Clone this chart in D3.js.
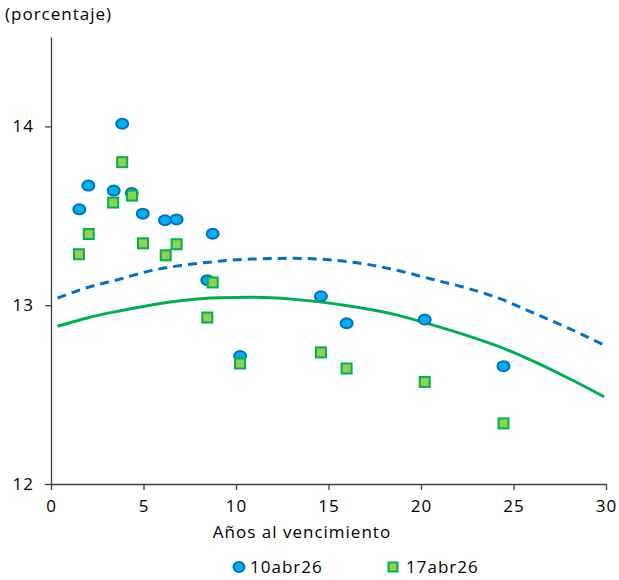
<!DOCTYPE html>
<html>
<head>
<meta charset="utf-8">
<script src="https://cdn.jsdelivr.net/npm/d3@7"></script>
<style>
  body { margin: 0; background: #fff; }
  text { font-family: "Open Sans", "Liberation Sans", sans-serif; fill: #000; letter-spacing: 1px; }
</style>
</head>
<body>
<svg id="chart" width="619" height="580"></svg>
<script>
// bonos: plazo (años) y rendimiento (%)
var plazos10 = [1.53, 2.02, 3.39, 3.85, 4.36, 4.96, 6.16, 6.79, 8.74, 8.45, 10.22, 14.59, 15.98, 20.2, 24.46];
var tasas10  = [13.536, 13.669, 13.641, 14.015, 13.627, 13.512, 13.475, 13.48, 13.40, 13.14, 12.716, 13.05, 12.899, 12.92, 12.659];

var plazos17 = [1.51, 2.04, 3.36, 3.85, 4.38, 4.97, 6.2, 6.79, 8.74, 8.45, 10.22, 14.59, 15.98, 20.2, 24.46];
var tasas17  = [13.285, 13.398, 13.574, 13.80, 13.613, 13.346, 13.279, 13.341, 13.127, 12.931, 12.674, 12.736, 12.646, 12.571, 12.339];

// curvas ajustadas
var curvaX   = [0.35, 2, 3.7, 5.35, 7, 9, 10.8, 13, 16.2, 18.5, 20.6, 22.5, 24.3, 26, 28, 29.9];
var curva10  = [13.04, 13.10, 13.145, 13.192, 13.222, 13.245, 13.258, 13.262, 13.242, 13.20, 13.145, 13.095, 13.035, 12.96, 12.87, 12.777];
var curva17  = [12.882, 12.93, 12.968, 13.0, 13.025, 13.042, 13.044, 13.034, 12.994, 12.95, 12.89, 12.83, 12.765, 12.69, 12.59, 12.488];

var xTicks = [0, 5, 10, 15, 20, 25, 30];
var yTicks = [12, 13, 14];

var svg = d3.select("#chart"),
    margin = {top: 37, right: 13, bottom: 96, left: 51},
    width = +svg.attr("width") - margin.left - margin.right,
    height = +svg.attr("height") - margin.top - margin.bottom,
    g = svg.append("g").attr("transform", "translate(" + margin.left + "," + margin.top + ")");

var x = d3.scaleLinear().domain([0, 30]).range([0, width]);
var y = d3.scaleLinear().domain([12, 14.5]).range([height, 0]);

var xAxis = g.append("g")
    .attr("transform", "translate(0," + height + ")")
    .call(d3.axisBottom(x).tickValues(xTicks).tickFormat(d3.format("d")).tickSize(6).tickSizeOuter(0).tickPadding(10));
var yAxis = g.append("g")
    .call(d3.axisLeft(y).tickValues(yTicks).tickFormat(d3.format("d")).tickSize(6).tickSizeOuter(0).tickPadding(11));

[xAxis, yAxis].forEach(function(a) {
  a.select(".domain").attr("stroke", "#404040").attr("stroke-width", 1.3);
  a.selectAll(".tick line").attr("stroke", "#404040").attr("stroke-width", 1.3);
  a.selectAll(".tick text").style("font-size", "17px").attr("fill", "#000");
});

var line = d3.line()
    .curve(d3.curveMonotoneX)
    .x(function(d) { return x(d[0]); })
    .y(function(d) { return y(d[1]); });

g.append("path")
    .datum(d3.zip(curvaX, curva10))
    .attr("d", line)
    .attr("fill", "none")
    .attr("stroke", "#0070C0")
    .attr("stroke-width", 3)
    .attr("stroke-dasharray", "9,6");

g.append("path")
    .datum(d3.zip(curvaX, curva17))
    .attr("d", line)
    .attr("fill", "none")
    .attr("stroke", "#00B050")
    .attr("stroke-width", 3);

g.selectAll(".pt10")
    .data(d3.zip(plazos10, tasas10))
  .enter().append("ellipse")
    .attr("class", "pt10")
    .attr("cx", function(d) { return x(d[0]); })
    .attr("cy", function(d) { return y(d[1]); })
    .attr("rx", 6)
    .attr("ry", 5)
    .attr("fill", "#00B0F0")
    .attr("stroke", "#0070C0")
    .attr("stroke-width", 2);

g.selectAll(".pt17")
    .data(d3.zip(plazos17, tasas17))
  .enter().append("rect")
    .attr("class", "pt17")
    .attr("x", function(d) { return x(d[0]) - 5; })
    .attr("y", function(d) { return y(d[1]) - 5; })
    .attr("width", 10)
    .attr("height", 10)
    .attr("fill", "#92D050")
    .attr("stroke", "#00B050")
    .attr("stroke-width", 2);

svg.append("text")
    .attr("x", 5)
    .attr("y", 20)
    .style("font-size", "17px")
    .text("(porcentaje)");

svg.append("text")
    .attr("x", 302)
    .attr("y", 538)
    .attr("text-anchor", "middle")
    .style("font-size", "17px")
    .text("Años al vencimiento");

// leyenda
var leg = svg.append("g").attr("transform", "translate(0,567)");
leg.append("ellipse").attr("cx", 239).attr("cy", 0).attr("rx", 5.5).attr("ry", 5)
    .attr("fill", "#00B0F0").attr("stroke", "#0070C0").attr("stroke-width", 2);
leg.append("text").attr("x", 250).attr("y", 6).style("font-size", "17px").text("10abr26");
leg.append("rect").attr("x", 388.5).attr("y", -4.5).attr("width", 9).attr("height", 9)
    .attr("fill", "#92D050").attr("stroke", "#00B050").attr("stroke-width", 2);
leg.append("text").attr("x", 406).attr("y", 6).style("font-size", "17px").text("17abr26");
</script>
</body>
</html>
